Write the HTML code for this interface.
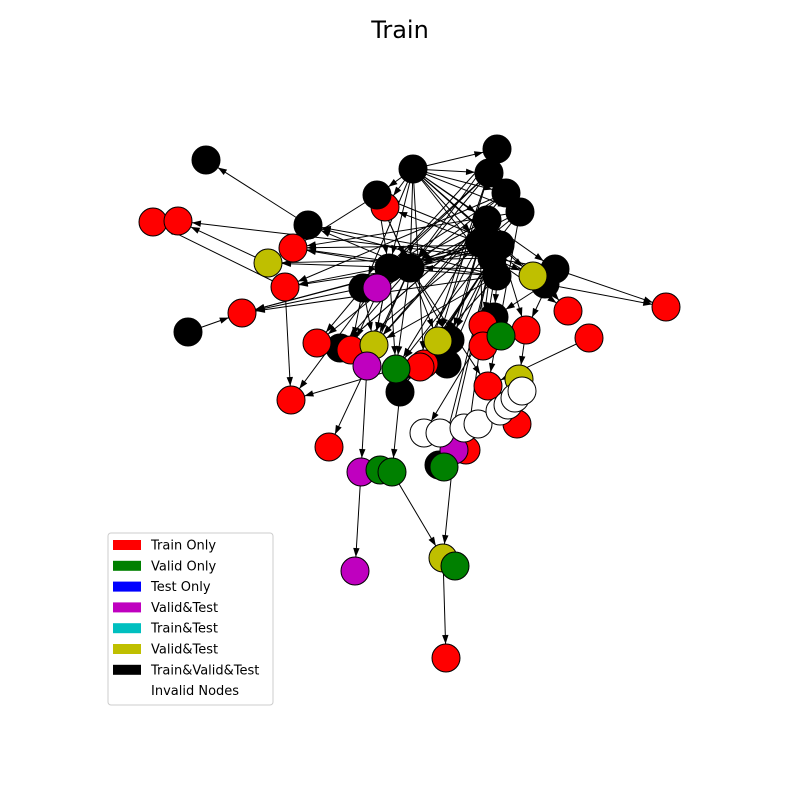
<!DOCTYPE html>
<html><head><meta charset="utf-8"><style>
body{margin:0;background:#fff;}
svg{display:block;font-family:"DejaVu Sans","Liberation Sans",sans-serif;}
</style></head><body>
<svg id="chart" width="800" height="800" viewBox="0 0 800 800">
<rect width="800" height="800" fill="#fff"/>
<text x="400" y="38" text-anchor="middle" font-size="24">Train</text>
<g id="edges"></g>
<g id="nodes"></g>
<g id="legend">
<rect x="108" y="533" width="165" height="172" rx="3" fill="#fff" stroke="#ccc"/>
</g>
</svg>
<script>
const nodeX=[206,413,497,489,506,520,377,308,487,480,500,492,389,410,497,555,545,363,188,494,340,450,447,400,439,
153,178,385,293,285,242,317,351,424,420,483,483,526,568,589,666,488,517,291,329,466,446,
268,533,374,438,519,443,
377,367,361,454,355,
501,396,380,392,444,455,
424,440,464,478,500,508,515,522];
const nodeY=[160,169,149,173,193,212,195,225,220,243,245,258,268,268,276,269,284,288,332,317,348,340,364,392,465,
222,221,207,248,287,313,343,350,364,367,325,346,330,311,338,307,386,424,400,447,450,658,
263,276,345,341,379,558,
288,366,472,450,571,
336,369,470,472,467,566,
433,433,428,424,411,405,398,391];
const nodeClass=["k","k","k","k","k","k","k","k","k","k","k","k","k","k","k","k","k","k","k","k","k","k","k","k","k",
"r","r","r","r","r","r","r","r","r","r","r","r","r","r","r","r","r","r","r","r","r","r",
"y","y","y","y","y","y",
"m","m","m","m","m",
"g","g","g","g","g","g",
"w","w","w","w","w","w","w","w"];
const edgeFrom=[1,1,1,1,1,1,1,1,1,1,1,1,1,
9,9,9,10,10,10,11,11,11,11,11,9,10,11,10,11,9,10,11,9,10,11,8,8,5,5,4,3,14,14,14,11,10,
13,13,13,13,13,13,13,13,13,13,13,13,13,
7,47,29,18,17,29,59,54,54,23,55,61,56,52,39,15,16,37,19,35,11,11,12,12,17,6,6,8,9,10,
2,2,3,3,4,4,5,5,8,8,9,10,11,3,4,5,2,8,14,14,14,19,15,16,16,15,6,6,12,12,12,17,17,20,31,1,1,1,1];
const edgeTo=[2,3,4,5,8,9,10,6,13,12,27,17,33,
13,12,17,28,29,30,47,26,7,48,15,16,37,38,19,35,36,50,21,22,33,34,59,49,32,41,13,12,7,50,49,22,36,
28,29,30,47,7,49,50,54,59,21,41,20,31,
0,26,25,30,30,43,43,44,55,61,57,52,52,46,41,40,40,51,64,45,24,62,49,43,31,28,13,20,23,34,
13,12,13,17,12,29,13,28,17,20,27,6,23,50,49,59,33,21,12,28,30,58,37,38,19,13,13,12,49,59,32,49,32,54,49,14,15,16,48];
const colors={k:"#000000",r:"#ff0000",y:"#bfbf00",m:"#bf00bf",g:"#008000",w:"#ffffff"};
const R=14;
const NS="http://www.w3.org/2000/svg";
const eg=document.getElementById('edges');
for(let i=0;i<edgeFrom.length;i++){
  const a=edgeFrom[i],b=edgeTo[i];
  const x1=nodeX[a],y1=nodeY[a],x2=nodeX[b],y2=nodeY[b];
  const dx=x2-x1,dy=y2-y1,L=Math.hypot(dx,dy)||1,ux=dx/L,uy=dy/L;
  const ex=x2-ux*R,ey=y2-uy*R;
  const ln=document.createElementNS(NS,'line');
  ln.setAttribute('x1',x1);ln.setAttribute('y1',y1);ln.setAttribute('x2',ex);ln.setAttribute('y2',ey);
  ln.setAttribute('stroke','#000');ln.setAttribute('stroke-width','1');
  
  
  eg.appendChild(ln);
  const bx=ex-ux*9,by=ey-uy*9,px=-uy*3.2,py=ux*3.2;
  const ar=document.createElementNS(NS,'polygon');
  ar.setAttribute('points',ex+','+ey+' '+(bx+px)+','+(by+py)+' '+(bx-px)+','+(by-py));
  ar.setAttribute('fill','#000');
  
  
  eg.appendChild(ar);
}
const ng=document.getElementById('nodes');
const order=[27];
for(let i=0;i<nodeX.length;i++){if(i!==27)order.push(i);}
order.forEach(i=>{
  const c=document.createElementNS(NS,'circle');
  c.setAttribute('cx',nodeX[i]);c.setAttribute('cy',nodeY[i]);c.setAttribute('r',R);
  c.setAttribute('fill',colors[nodeClass[i]]);c.setAttribute('stroke','#000');c.setAttribute('stroke-width','1');
  
  
  ng.appendChild(c);
});
const legendLabels=["Train Only","Valid Only","Test Only","Valid&Test","Train&Test","Valid&Test","Train&Valid&Test","Invalid Nodes"];
const legendColors=["#ff0000","#008000","#0000ff","#bf00bf","#00bfbf","#bfbf00","#000000","none"];
const lg=document.getElementById('legend');
legendLabels.forEach((t,i)=>{
  const y=545+i*20.8;
  if(legendColors[i]!=="none"){
    const r=document.createElementNS(NS,'rect');
    r.setAttribute('x',113);r.setAttribute('y',y-5);r.setAttribute('width',28);r.setAttribute('height',10);
    r.setAttribute('fill',legendColors[i]);
    
    
    lg.appendChild(r);
  }
  const tx=document.createElementNS(NS,'text');
  tx.setAttribute('x',151);tx.setAttribute('y',y+4.5);tx.setAttribute('font-size','13');
  tx.textContent=t;
  
  
  lg.appendChild(tx);
});
</script>
</body></html>
